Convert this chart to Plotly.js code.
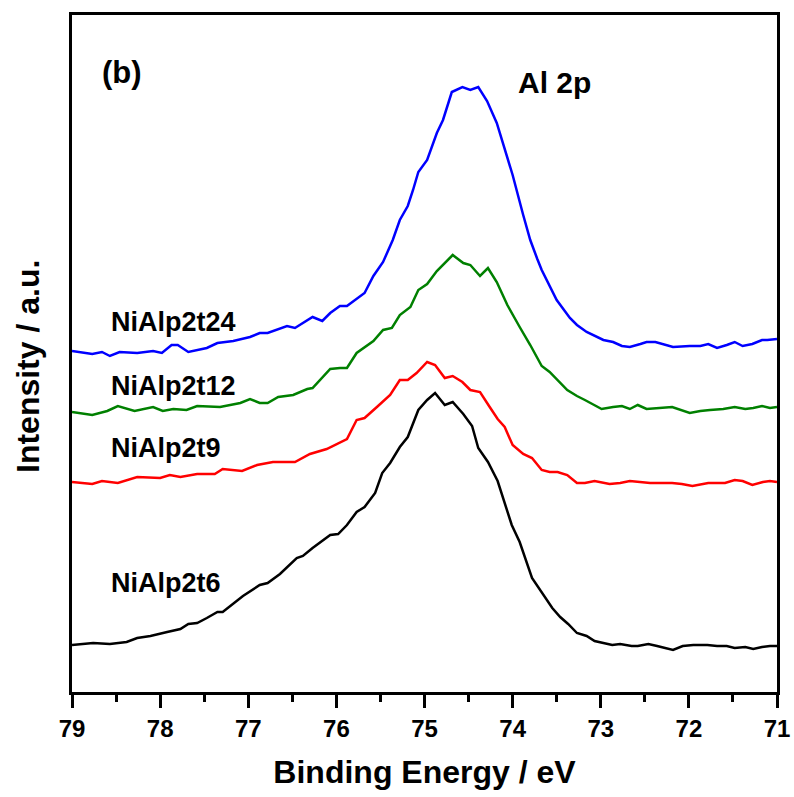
<!DOCTYPE html>
<html>
<head>
<meta charset="utf-8">
<script src="https://cdn.plot.ly/plotly-3.0.1.min.js"></script>
<style>html,body{margin:0;padding:0;background:#fff;}#chart{width:794px;height:797px;}</style>
</head>
<body>
<div id="chart"></div>
<script>
// NiAlp2t6 (black)
const e6 = [79.00,78.76,78.57,78.38,78.26,78.11,77.92,77.77,77.68,77.58,77.47,77.35,77.29,77.17,77.06,76.87,76.78,76.64,76.53,76.45,76.38,76.27,76.07,75.98,75.88,75.77,75.68,75.56,75.48,75.39,75.28,75.19,75.07,74.97,74.88,74.77,74.68,74.56,74.46,74.39,74.28,74.17,74.01,73.92,73.78,73.67,73.55,73.46,73.37,73.27,73.16,73.07,72.87,72.78,72.65,72.58,72.46,72.36,72.18,72.07,71.95,71.79,71.68,71.57,71.48,71.36,71.27,71.17,71.08,71.00];
const i6 = [47,49,48,50,54,56,60,63,68,69,74,80,80,88,96,107,109,118,127,134,136,144,157,158,167,180,185,199,219,229,245,255,282,292,299,287,290,278,266,244,230,211,167,150,114,99,84,75,68,59,56,51,47,48,46,46,48,46,42,46,47,47,46,46,44,45,43,45,46,46];

// NiAlp2t9 (red)
const e9 = [79.00,78.77,78.66,78.48,78.26,78.00,77.89,77.77,77.58,77.38,77.29,77.07,76.90,76.72,76.47,76.30,76.11,75.96,75.88,75.77,75.68,75.54,75.39,75.28,75.19,75.09,74.97,74.88,74.77,74.68,74.57,74.48,74.37,74.26,74.17,74.09,74.00,73.88,73.78,73.67,73.58,73.49,73.38,73.27,73.18,73.07,72.90,72.78,72.67,72.44,72.19,72.08,71.96,71.78,71.59,71.48,71.39,71.28,71.16,71.08,71.00];
const i9 = [210,208,211,209,215,214,217,215,218,218,223,221,227,230,230,238,243,250,253,272,274,285,297,312,312,319,330,327,314,316,310,302,300,285,273,265,247,238,234,222,220,220,217,209,209,211,208,209,211,209,209,208,206,209,209,212,211,207,210,211,210];

// NiAlp2t12 (green)
const e12 = [79.00,78.77,78.60,78.48,78.29,78.15,78.08,77.97,77.85,77.70,77.58,77.32,77.09,76.98,76.87,76.78,76.66,76.49,76.33,76.27,76.07,75.96,75.88,75.77,75.68,75.58,75.47,75.37,75.28,75.16,75.07,74.97,74.86,74.77,74.68,74.56,74.48,74.37,74.28,74.18,74.06,73.92,73.80,73.67,73.58,73.38,73.27,73.18,72.99,72.86,72.76,72.67,72.58,72.48,72.36,72.19,71.99,71.87,71.76,71.61,71.48,71.36,71.27,71.17,71.08,71.00];
const i12 = [280,277,281,286,281,284,285,281,283,282,286,285,289,293,289,289,295,297,303,304,323,324,324,339,345,351,362,364,377,385,402,408,421,429,437,429,427,416,424,410,387,365,347,326,320,302,296,292,283,285,286,283,287,283,284,285,279,281,282,283,285,283,284,286,284,285];

// NiAlp2t24 (blue)
const e24 = [79.00,78.77,78.66,78.57,78.46,78.26,78.08,77.98,77.87,77.80,77.68,77.47,77.35,77.17,76.98,76.87,76.78,76.56,76.47,76.33,76.27,76.16,76.07,75.96,75.88,75.68,75.58,75.47,75.36,75.28,75.19,75.13,75.07,74.97,74.86,74.79,74.69,74.57,74.48,74.39,74.29,74.18,74.06,74.00,73.88,73.80,73.72,73.67,73.50,73.46,73.35,73.27,73.16,72.97,72.86,72.76,72.67,72.55,72.48,72.38,72.27,72.18,71.99,71.87,71.78,71.68,71.57,71.48,71.39,71.28,71.17,71.11,71.00];
const i24 = [341,338,340,336,340,339,341,339,347,347,340,344,349,351,355,359,359,366,364,372,375,371,379,386,386,399,416,430,452,472,486,502,520,532,559,572,600,605,602,605,591,569,534,517,477,452,433,422,392,387,374,367,360,352,350,346,345,348,350,350,347,345,346,346,348,344,347,350,346,348,352,352,353];

const seriesNames = ["NiAlp2t6","NiAlp2t9","NiAlp2t12","NiAlp2t24"];
const xTicks = [79,78,77,76,75,74,73,72,71];

const FONT = "Arial, 'Liberation Sans', Helvetica, sans-serif";
const colors = ["#000000","#ff0000","#008000","#0000ff"];
const xs = [e6,e9,e12,e24];
const ys = [i6,i9,i12,i24];

const traces = xs.map((x,k)=>({
  x: x, y: ys[k], type: "scatter", mode: "lines", name: seriesNames[k],
  line: {color: colors[k], width: 2.5}, hoverinfo: "skip"
}));

const L = 72, T = 15, W = 705, H = 677;
const px = v => (v - L) / W;
const py = v => (T + H - v) / H;

const labelY = [583, 448, 386, 322];
const annotations = seriesNames.map((s,k)=>({
  text: "<b>" + s + "</b>", xref: "paper", yref: "paper",
  x: px(109), y: py(labelY[k]), xanchor: "left", yanchor: "middle",
  showarrow: false, font: {family: FONT, size: 27, color: "#000"}
}));
annotations.push({text: "<b>(b)</b>", xref: "paper", yref: "paper", x: px(100), y: py(72),
  xanchor: "left", yanchor: "middle", showarrow: false, font: {family: FONT, size: 31, color: "#000"}});
annotations.push({text: "<b>Al 2p</b>", xref: "paper", yref: "paper", x: px(516), y: py(82),
  xanchor: "left", yanchor: "middle", showarrow: false, font: {family: FONT, size: 30, color: "#000"}});
annotations.push({text: "<b>Intensity / a.u.</b>", xref: "paper", yref: "paper", x: px(28), y: py(367),
  xanchor: "center", yanchor: "middle", textangle: -90, showarrow: false,
  font: {family: FONT, size: 32, color: "#000"}});

const layout = {
  width: 794, height: 797,
  margin: {l: L, r: 794 - L - W, t: T, b: 797 - T - H, pad: 0},
  paper_bgcolor: "#fff", plot_bgcolor: "#fff",
  showlegend: false,
  xaxis: {
    range: [79, 71], tickvals: xTicks, ticktext: xTicks.map(String),
    showgrid: false, zeroline: false,
    showline: true, mirror: true, linewidth: 3, linecolor: "#000",
    ticks: "outside", ticklen: 13, tickwidth: 3, tickcolor: "#000",
    minor: {dtick: 0.5, ticks: "outside", ticklen: 7, tickwidth: 3, tickcolor: "#000", showgrid: false},
    tickfont: {family: FONT, size: 24, color: "#000", weight: "bold"},
    title: {text: "<b>Binding Energy / eV</b>", font: {family: FONT, size: 32, color: "#000"}, standoff: 20}
  },
  yaxis: {
    range: [0, 677], showticklabels: false, ticks: "",
    showgrid: false, zeroline: false,
    showline: true, mirror: true, linewidth: 3, linecolor: "#000"
  },
  annotations: annotations
};

Plotly.newPlot("chart", traces, layout, {displayModeBar: false, staticPlot: true});
</script>
</body>
</html>
